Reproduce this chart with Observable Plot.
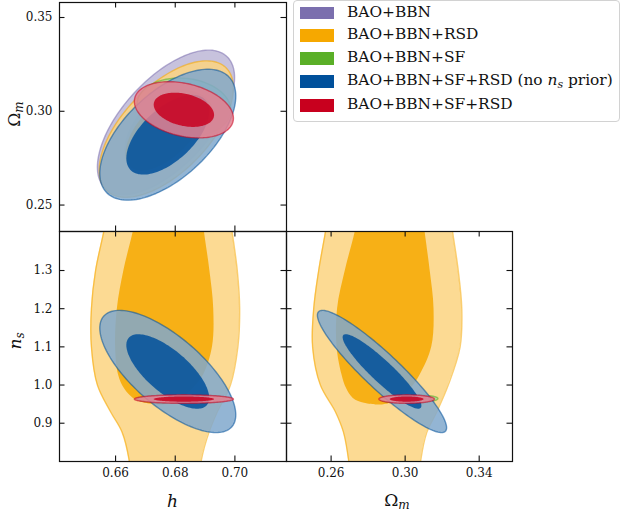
<!DOCTYPE html>
<html><head><meta charset="utf-8">
<script src="https://cdn.jsdelivr.net/npm/d3@7"></script>
<script src="https://cdn.jsdelivr.net/npm/@observablehq/plot@0.6"></script>
<style>
html,body{margin:0;padding:0;background:#fff;}
#chart{position:relative;width:622px;height:511px;overflow:hidden;font-family:"DejaVu Serif",serif;}
#chart svg.panel{position:absolute;left:0;top:0;}
#legend{position:absolute;left:293px;top:0px;width:327px;height:122px;border:1px solid #d2d2d2;border-radius:4px;box-sizing:border-box;background:#fff;}
#legend .sw{position:absolute;left:6px;width:34px;height:12.7px;}
#legend .lb{position:absolute;left:53px;font-size:15.4px;line-height:15px;color:#111;white-space:nowrap;}
</style></head>
<body><div id="chart"></div>
<script>
// ---------------- data ----------------
const datasets = ["BAO+BBN", "BAO+BBN+RSD", "BAO+BBN+SF", "BAO+BBN+SF+RSD (no ns prior)", "BAO+BBN+SF+RSD"];
const colors   = ["#7b6fae", "#f6a800", "#5aaf27", "#00509b", "#c8001e"];
// Gaussian approximations of the elliptical contours
const meanH    = [0.6769, 0.6770, 0.6829, 0.6775, 0.6829];
const sigmaH   = [0.00925, 0.00905, 0.00632, 0.00917, 0.00668];
const meanOm   = [0.2941, 0.2905, 0.3022, 0.2875, 0.3008];
const sigmaOm  = [0.01549, 0.01464, 0.00624, 0.01404, 0.00603];
const meanNs   = [null, null, 0.9635, 1.0355, 0.9632];
const sigmaNs  = [null, null, 0.0046, 0.0644, 0.0045];
const corrHOm  = [0.62, 0.60, -0.10, 0.59, -0.30];
const corrHNs  = [null, null, 0.0, -0.71, 0.0];
const corrOmNs = [null, null, 0.1, -0.92, 0.0];
const chiLevels = [2.486, 1.515]; // 95% and 68% (2 d.o.f.)
// Non-Gaussian BAO+BBN+RSD contours in the n_s panels: boundaries at n_s levels
const nsOuter      = [1.45, 1.40, 1.30, 1.20, 1.10, 1.00, 0.93, 0.876, 0.805, 0.75];
const hLeftOuter   = [0.6572, 0.6560, 0.6533, 0.6519, 0.6519, 0.6539, 0.6583, 0.6622, 0.6645, 0.6652];
const hRightOuter  = [0.6982, 0.6991, 0.7008, 0.7016, 0.7010, 0.6985, 0.6941, 0.6913, 0.6888, 0.6880];
const omLeftOuter  = [0.2585, 0.2569, 0.2533, 0.2506, 0.2500, 0.2542, 0.2623, 0.2667, 0.2694, 0.2705];
const omRightOuter = [0.3245, 0.3257, 0.3287, 0.3306, 0.3297, 0.3233, 0.3171, 0.3117, 0.3085, 0.3075];
const nsInner      = [1.45, 1.40, 1.30, 1.20, 1.10, 1.026, 0.99, 0.965, 0.952, 0.948];
const hLeftInner   = [0.6672, 0.6659, 0.6628, 0.6606, 0.6600, 0.6610, 0.6630, 0.6660, 0.6700, 0.6740];
const hRightInner  = [0.6890, 0.6898, 0.6916, 0.6929, 0.6925, 0.6895, 0.6860, 0.6825, 0.6790, 0.6760];
const omLeftInner  = [0.2750, 0.2730, 0.2677, 0.2635, 0.2632, 0.2659, 0.2684, 0.2720, 0.2780, 0.2840];
const omRightInner = [0.3095, 0.3108, 0.3135, 0.3156, 0.3144, 0.3081, 0.3030, 0.2970, 0.2920, 0.2880];
// ticks
const hTicks  = [0.66, 0.68, 0.70];
const omTicks = [0.25, 0.30, 0.35];
const omTicksX = [0.26, 0.30, 0.34];
const nsTicks = [0.9, 1.0, 1.1, 1.2, 1.3];
const hDomain = [0.6412, 0.7173];
const omDomain = [0.2359, 0.3580];
const nsDomain = [0.7997, 1.4022];

// ---------------- helpers ----------------
const ALPHA = 0.85;
const light = c => d3.interpolateRgb("#ffffff", c)(0.5);
function ellipse(mx, sx, my, sy, r, k) {
  const n = 144, pts = [], q = Math.sqrt(1 - r * r);
  for (let i = 0; i < n; i++) {
    const t = 2 * Math.PI * i / n;
    pts.push({x: mx + k * sx * Math.cos(t), y: my + k * sy * (r * Math.cos(t) + q * Math.sin(t))});
  }
  return pts;
}
function ellipseMarks(mx, sx, my, sy, r, color) {
  return [
    Plot.line(ellipse(mx, sx, my, sy, r, chiLevels[0]), {x: "x", y: "y", curve: "linear-closed", fill: light(color), fillOpacity: ALPHA, stroke: color, strokeOpacity: 0.55, strokeWidth: 1.4, clip: true}),
    Plot.line(ellipse(mx, sx, my, sy, r, chiLevels[1]), {x: "x", y: "y", curve: "linear-closed", fill: color, fillOpacity: ALPHA, stroke: "none", clip: true})
  ];
}
function bandMarks(left, right, levels, color, outer) {
  const rows = levels.map((y, i) => ({y, a: left[i], b: right[i]}));
  const m = [Plot.areaX(rows, {x1: "a", x2: "b", y: "y", curve: "catmull-rom", fill: outer ? light(color) : color, fillOpacity: ALPHA, clip: true})];
  if (outer) {
    m.push(Plot.line(rows, {x: "a", y: "y", curve: "catmull-rom", stroke: color, strokeOpacity: 0.55, strokeWidth: 1.4, clip: true}));
    m.push(Plot.line(rows, {x: "b", y: "y", curve: "catmull-rom", stroke: color, strokeOpacity: 0.55, strokeWidth: 1.4, clip: true}));
  }
  return m;
}
function tickMarks(xt, yt, W, H) {
  const L = 5.5, s = {stroke: "#111", strokeWidth: 1.1};
  return [
    Plot.ruleX(xt, {x: d => d, insetTop: H - L, ...s}),
    Plot.ruleX(xt, {x: d => d, insetBottom: H - L, ...s}),
    Plot.ruleY(yt, {y: d => d, insetRight: W - L, ...s}),
    Plot.ruleY(yt, {y: d => d, insetLeft: W - L, ...s})
  ];
}
const baseStyle = {background: "transparent", fontFamily: "DejaVu Serif", fontSize: "12px", color: "#111", overflow: "visible"};
const chart = document.getElementById("chart");

// ---------------- panel: h vs Omega_m ----------------
{
  const marks = [];
  datasets.forEach((d, i) => marks.push(...ellipseMarks(meanH[i], sigmaH[i], meanOm[i], sigmaOm[i], corrHOm[i], colors[i])));
  const L = 59, R = 286, T = 2, B = 231;
  const svg = Plot.plot({
    width: 622, height: 511, marginLeft: L, marginRight: 622 - R, marginTop: T, marginBottom: 511 - B,
    x: {domain: hDomain, axis: null}, y: {domain: omDomain},
    style: baseStyle,
    marks: [
      ...marks,
      ...tickMarks(hTicks, omTicks, R - L, B - T),
      Plot.axisY(omTicks, {tickSize: 0, tickPadding: 7, tickFormat: d3.format(".2f"), label: null}),
      Plot.frame({stroke: "#111", strokeWidth: 1.2})
    ]
  });
  svg.classList.add("panel");
  chart.appendChild(svg);
}
// ---------------- panel: h vs n_s ----------------
{
  const marks = [];
  datasets.forEach((d, i) => {
    if (i === 1) {
      marks.push(...bandMarks(hLeftOuter, hRightOuter, nsOuter, colors[i], true));
      marks.push(...bandMarks(hLeftInner, hRightInner, nsInner, colors[i], false));
    } else if (meanNs[i] != null) {
      marks.push(...ellipseMarks(meanH[i], sigmaH[i], meanNs[i], sigmaNs[i], corrHNs[i], colors[i]));
    }
  });
  const L = 59, R = 286, T = 231, B = 461;
  const svg = Plot.plot({
    width: 622, height: 511, marginLeft: L, marginRight: 622 - R, marginTop: T, marginBottom: 511 - B,
    x: {domain: hDomain}, y: {domain: nsDomain},
    style: baseStyle,
    marks: [
      ...marks,
      ...tickMarks(hTicks, nsTicks, R - L, B - T),
      Plot.axisX(hTicks, {tickSize: 0, tickPadding: 7, tickFormat: d3.format(".2f"), label: null}),
      Plot.axisY(nsTicks, {tickSize: 0, tickPadding: 7, tickFormat: d3.format(".1f"), label: null}),
      Plot.frame({stroke: "#111", strokeWidth: 1.2})
    ]
  });
  svg.classList.add("panel");
  chart.appendChild(svg);
}
// ---------------- panel: Omega_m vs n_s ----------------
{
  const marks = [];
  datasets.forEach((d, i) => {
    if (i === 1) {
      marks.push(...bandMarks(omLeftOuter, omRightOuter, nsOuter, colors[i], true));
      marks.push(...bandMarks(omLeftInner, omRightInner, nsInner, colors[i], false));
    } else if (meanNs[i] != null) {
      marks.push(...ellipseMarks(meanOm[i], sigmaOm[i], meanNs[i], sigmaNs[i], corrOmNs[i], colors[i]));
    }
  });
  const L = 286, R = 512, T = 231, B = 461;
  const svg = Plot.plot({
    width: 622, height: 511, marginLeft: L, marginRight: 622 - R, marginTop: T, marginBottom: 511 - B,
    x: {domain: omDomain}, y: {domain: nsDomain, axis: null},
    style: baseStyle,
    marks: [
      ...marks,
      ...tickMarks(omTicksX, nsTicks, R - L, B - T),
      Plot.axisX(omTicksX, {tickSize: 0, tickPadding: 7, tickFormat: d3.format(".2f"), label: null}),
      Plot.frame({stroke: "#111", strokeWidth: 1.2})
    ]
  });
  svg.classList.add("panel");
  chart.appendChild(svg);
}

// ---------------- axis titles ----------------
{
  const svg = d3.select(chart).append("svg").attr("class", "panel").attr("width", 622).attr("height", 511)
    .style("font-family", "DejaVu Serif").style("fill", "#111");
  svg.append("text").attr("x", 172.5).attr("y", 507).attr("text-anchor", "middle").attr("font-size", 17).attr("font-style", "italic").text("h");
  const t2 = svg.append("text").attr("x", 397).attr("y", 506).attr("text-anchor", "middle").attr("font-size", 17);
  t2.append("tspan").text("Ω");
  t2.append("tspan").attr("font-style", "italic").attr("font-size", 12).attr("dy", 3).text("m");
  const t3 = svg.append("text").attr("transform", "translate(20,114) rotate(-90)").attr("text-anchor", "middle").attr("font-size", 17);
  t3.append("tspan").text("Ω");
  t3.append("tspan").attr("font-style", "italic").attr("font-size", 12).attr("dy", 3).text("m");
  const t4 = svg.append("text").attr("transform", "translate(21,341) rotate(-90)").attr("text-anchor", "middle").attr("font-size", 17);
  t4.append("tspan").attr("font-style", "italic").text("n");
  t4.append("tspan").attr("font-style", "italic").attr("font-size", 12).attr("dy", 3).text("s");
}

// ---------------- legend ----------------
{
  const leg = document.createElement("div");
  leg.id = "legend";
  const centers = [12, 34.8, 57.8, 80.8, 104.2];
  datasets.forEach((name, i) => {
    const sw = document.createElement("div");
    sw.className = "sw"; sw.style.background = colors[i]; sw.style.top = (centers[i] - 6.35) + "px";
    leg.appendChild(sw);
    const lb = document.createElement("div");
    lb.className = "lb"; lb.style.top = (centers[i] - 8.5) + "px";
    if (name.includes("(no ns prior)")) {
      lb.innerHTML = "BAO+BBN+SF+RSD (no <i>n</i><sub style='font-size:11px;font-style:italic;vertical-align:-3px'>s</sub> prior)";
    } else lb.textContent = name;
    leg.appendChild(lb);
  });
  chart.appendChild(leg);
}
</script></body></html>
